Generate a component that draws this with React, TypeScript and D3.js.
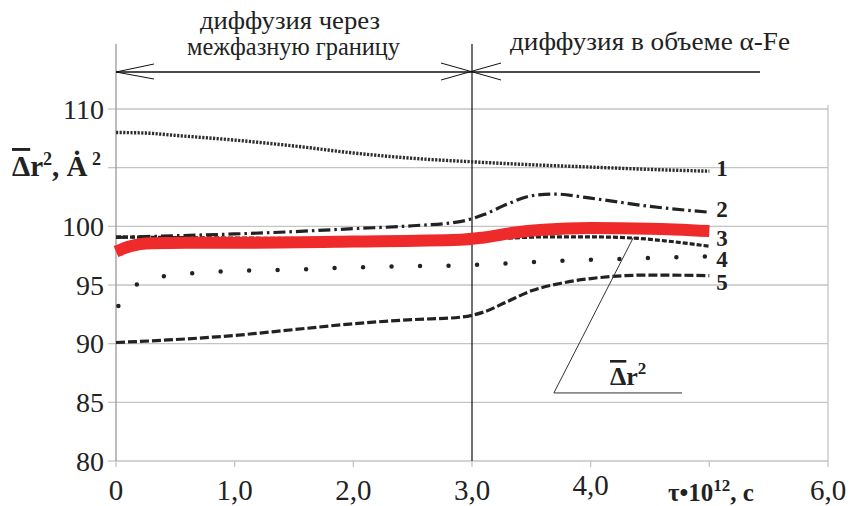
import React from 'react';
import * as d3 from 'd3';

// axis ticks
const yTicks = [80, 85, 90, 95, 100, 105, 110];
const yTickLabels = ['80', '85', '90', '95', '100', '', '110'];
const xTicks = [0, 1, 2, 3, 4, 5, 6];
const xTickLabels = ['0', '1,0', '2,0', '3,0', '4,0', '', '6,0'];

// curve 1 (dotted)
const c1x = [0, 0.25, 0.5, 1, 1.5, 2, 2.5, 3, 3.5, 4, 4.5, 5];
const c1y = [108, 107.95, 107.75, 107.35, 106.85, 106.25, 105.8, 105.5, 105.25, 105.05, 104.85, 104.7];
// curve 2 (dash-dot)
const c2x = [0, 0.5, 1, 1.5, 2, 2.5, 2.9, 3.1, 3.3, 3.5, 3.7, 4, 4.5, 5];
const c2y = [99.05, 99.2, 99.35, 99.55, 99.8, 100.05, 100.4, 101.0, 101.9, 102.6, 102.75, 102.4, 101.7, 101.2];
// curve 3 (short dashes)
const c3x = [0, 1, 2, 3, 3.3, 3.6, 4, 4.36, 4.64, 5];
const c3y = [99.1, 99.0, 98.95, 98.95, 99.0, 99.1, 99.1, 99.0, 98.75, 98.3];
// curve 4 (sparse dots)
const c4x = [0.02, 0.17, 0.4, 0.65, 1, 1.5, 2, 2.5, 3, 3.5, 4, 4.5, 5];
const c4y = [93.2, 95.0, 95.75, 96.0, 96.2, 96.3, 96.5, 96.6, 96.7, 96.95, 97.15, 97.3, 97.45];
// curve 5 (dashed)
const c5x = [0, 0.5, 1, 1.5, 2, 2.5, 2.9, 3.1, 3.3, 3.5, 3.75, 4, 4.5, 5];
const c5y = [90.1, 90.35, 90.7, 91.2, 91.7, 92.05, 92.25, 92.7, 93.6, 94.5, 95.15, 95.55, 95.85, 95.8];
// mean curve (red)
const mx = [0, 0.12, 0.3, 0.6, 1, 2, 2.9, 3.1, 3.35, 3.6, 4, 4.5, 5];
const my = [97.85, 98.3, 98.55, 98.6, 98.6, 98.7, 98.85, 99.05, 99.45, 99.7, 99.85, 99.8, 99.6];

const curveLabels = ['1', '2', '3', '4', '5'];
const curveLabelY = [104.3, 100.8, 98.35, 96.5, 94.6];

const FONT = "'Liberation Serif', 'DejaVu Serif', serif";
const INK = '#222';
const GRID = '#c4c4c4';

const zip = (xs: number[], ys: number[]) => xs.map((x, i) => [x, ys[i]] as [number, number]);

export default function App() {
  const width = 852;
  const height = 506;
  const x = d3.scaleLinear().domain([0, 6]).range([116, 828]);
  const y = d3.scaleLinear().domain([80, 110]).range([461, 109]);

  const line = d3.line<[number, number]>()
    .x(d => x(d[0]))
    .y(d => y(d[1]))
    .curve(d3.curveMonotoneX);

  const topY = 44;
  const arrowY = 72;
  const txt = { fontFamily: FONT };

  return (
    <svg width={width} height={height} style={{ position: 'absolute', left: 0, top: 0, background: '#fff', fontFamily: FONT }}>
      {/* grid */}
      {yTicks.map((t, i) => (
        <g key={t}>
          <line x1={x(0)} x2={x(6)} y1={y(t)} y2={y(t)} stroke={GRID} strokeWidth={1.3} />
          <line x1={x(0) - 8} x2={x(0)} y1={y(t)} y2={y(t)} stroke={GRID} strokeWidth={1.3} />
          <text x={104} y={y(t) + 9.5} textAnchor="end" fontSize={28} fill={INK} style={txt}>{yTickLabels[i]}</text>
        </g>
      ))}
      <line x1={x(6)} x2={x(6)} y1={y(110) - 4} y2={y(80)} stroke={GRID} strokeWidth={1.3} />
      <line x1={x(0)} x2={x(0)} y1={topY} y2={y(80)} stroke="#999" strokeWidth={1.3} />
      {xTicks.map((t, i) => (
        <g key={t}>
          <line x1={x(t)} x2={x(t)} y1={y(80)} y2={y(80) + 6} stroke={GRID} strokeWidth={1.3} />
          <text x={x(t)} y={t === 4 ? 495 : 500} textAnchor="middle" fontSize={29} fill={INK} style={txt}>{xTickLabels[i]}</text>
        </g>
      ))}
      <text x={711} y={501} textAnchor="middle" fontSize={25} fontWeight="bold" fill={INK} style={txt}>
        τ•10<tspan dy={-10} fontSize={17}>12</tspan><tspan dy={10}>, с</tspan>
      </text>

      {/* y title */}
      <text x={12} y={176} fontSize={29} fontWeight="bold" fill={INK} style={txt}>
        <tspan style={{ textDecoration: 'overline' }}>Δ</tspan>r<tspan dy={-11} fontSize={18}>2</tspan><tspan dy={11}>, Ȧ</tspan><tspan dy={-11} fontSize={18}> 2</tspan>
      </text>

      {/* region separators and arrows */}
      <line x1={x(3)} x2={x(3)} y1={topY} y2={y(80)} stroke="#111" strokeWidth={1.2} />
      <line x1={x(0)} x2={760} y1={arrowY} y2={arrowY} stroke="#111" strokeWidth={1.3} />
      <line x1={x(0)} x2={x(0) + 38} y1={arrowY} y2={arrowY - 8} stroke="#111" strokeWidth={1} />
      <line x1={x(0)} x2={x(0) + 38} y1={arrowY} y2={arrowY + 7} stroke="#111" strokeWidth={1} />
      <line x1={x(3) - 31} x2={x(3) + 29} y1={arrowY - 9} y2={arrowY + 8} stroke="#111" strokeWidth={1} />
      <line x1={x(3) - 31} x2={x(3) + 29} y1={arrowY + 8} y2={arrowY - 9} stroke="#111" strokeWidth={1} />
      <text x={200} y={29} fontSize={25} fill={INK} style={txt} textLength={180} lengthAdjust="spacingAndGlyphs">диффузия через</text>
      <text x={187} y={55} fontSize={25} fill={INK} style={txt} textLength={213} lengthAdjust="spacingAndGlyphs">межфазную границу</text>
      <text x={510} y={50} fontSize={25} fill={INK} style={txt} textLength={280} lengthAdjust="spacingAndGlyphs">диффузия в объеме α-Fe</text>

      {/* curves */}
      <path d={line(zip(c1x, c1y)) || ''} fill="none" stroke="#2e2e2e" strokeWidth={3.4} strokeDasharray="2.2 1.4" />
      <path d={line(zip(c5x, c5y)) || ''} fill="none" stroke="#222" strokeWidth={3.2} strokeDasharray="9 3" />
      <path d={line(zip(c4x, c4y)) || ''} fill="none" stroke="#222" strokeWidth={4.5} strokeLinecap="round" strokeDasharray="0 28.5" />
      <path d={line(zip(c3x, c3y)) || ''} fill="none" stroke="#222" strokeWidth={3.2} strokeDasharray="5 2" />
      <path d={line(zip(c2x, c2y)) || ''} fill="none" stroke="#222" strokeWidth={3.2} strokeDasharray="12 4 2.5 4" />
      <path d={line(zip(mx, my)) || ''} fill="none" stroke="#ee2a2a" strokeWidth={12} />

      {/* curve labels */}
      {curveLabels.map((l, i) => (
        <text key={l} x={x(5) + 7} y={y(curveLabelY[i])} fontSize={23} fontWeight="bold" fill={INK} style={txt}>{l}</text>
      ))}

      {/* mean annotation */}
      <line x1={x(3.69)} x2={x(4.36)} y1={y(85.8)} y2={y(99.05)} stroke="#333" strokeWidth={1} />
      <line x1={x(3.69)} x2={x(4.77)} y1={y(85.8)} y2={y(85.8)} stroke="#333" strokeWidth={1} />
      <text x={610} y={385} fontSize={26} fontWeight="bold" fill={INK} style={txt}>
        <tspan style={{ textDecoration: 'overline' }}>Δ</tspan>r<tspan dy={-11} fontSize={17}>2</tspan>
      </text>
    </svg>
  );
}
